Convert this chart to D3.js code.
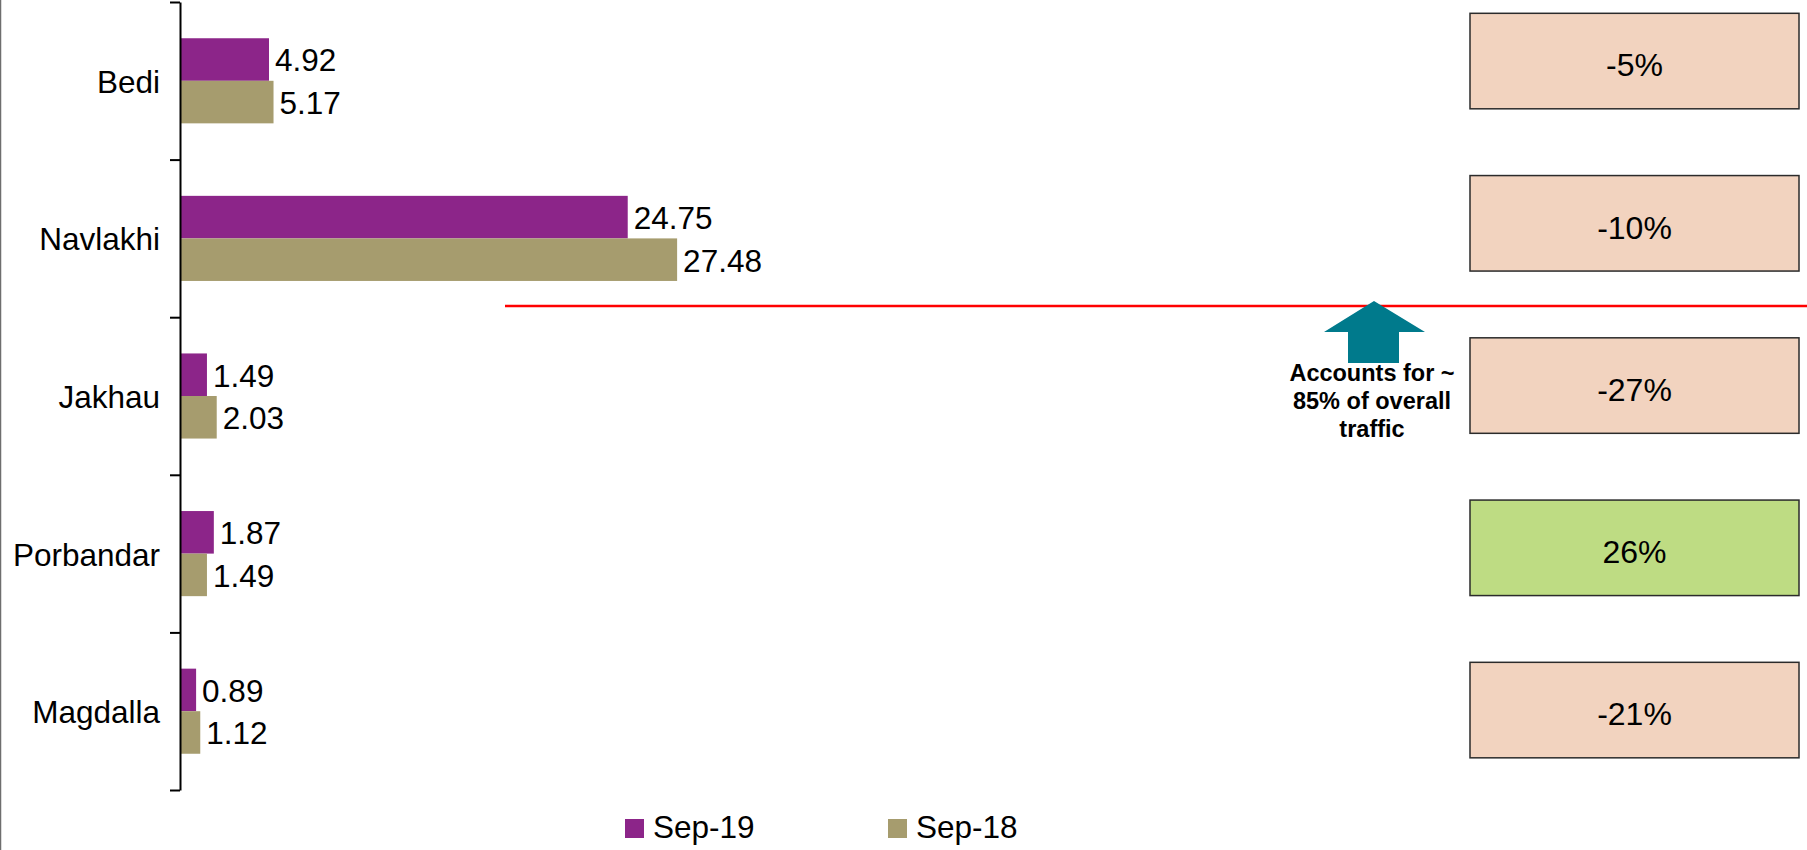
<!DOCTYPE html>
<html>
<head>
<meta charset="utf-8">
<script src="https://cdn.jsdelivr.net/npm/d3@7/dist/d3.min.js"></script>
<style>
  body { margin: 0; background: #fff; }
  svg { display: block; font-family: Arial, "Liberation Sans", sans-serif; }
</style>
</head>
<body>
<div id="chart"></div>
<script>
// data
var categories = ['Bedi', 'Navlakhi', 'Jakhau', 'Porbandar', 'Magdalla'];
var series = ['Sep-19', 'Sep-18'];
var sep19 = [4.92, 24.75, 1.49, 1.87, 0.89];
var sep18 = [5.17, 27.48, 2.03, 1.49, 1.12];
var growth = [-5, -10, -27, 26, -21];
var note = ['Accounts for ~', '85% of overall', 'traffic'];

var width = 1807, height = 850;
var colors = { 'Sep-19': '#8C2589', 'Sep-18': '#A69C6E' };

var svg = d3.select('#chart').append('svg')
    .attr('width', width).attr('height', height);

// scales
var x = d3.scaleLinear().domain([0, 30]).range([180, 180 + 30 * 18.09]);
var y0 = d3.scaleBand().domain(categories).range([2, 790])
    .paddingInner(0.46).paddingOuter(0.23);
var y1 = d3.scaleBand().domain(series).range([0, y0.bandwidth()]);
var yEdge = d3.scaleLinear().domain([0, categories.length]).range([2, 790]);
var yBox = d3.scaleBand().domain(categories).range([-20.07, 791.2])
    .paddingInner(0.4114).paddingOuter(0.2057);

// left border line
svg.append('line')
    .attr('x1', 0.5).attr('x2', 0.5).attr('y1', 0).attr('y2', height)
    .attr('stroke', '#6e6e6e').attr('stroke-width', 1.5);

// rows
var rows = categories.map(function(c, i) {
    return { cat: c, vals: [{ s: 'Sep-19', v: sep19[i] }, { s: 'Sep-18', v: sep18[i] }] };
});

var grp = svg.selectAll('g.row').data(rows).enter().append('g')
    .attr('class', 'row')
    .attr('transform', function(d) { return 'translate(0,' + y0(d.cat) + ')'; });

grp.selectAll('rect').data(function(d) { return d.vals; }).enter().append('rect')
    .attr('x', x(0)).attr('y', function(d) { return y1(d.s); })
    .attr('width', function(d) { return x(d.v) - x(0); })
    .attr('height', y1.bandwidth())
    .attr('fill', function(d) { return colors[d.s]; });

grp.selectAll('text.val').data(function(d) { return d.vals; }).enter().append('text')
    .attr('class', 'val')
    .attr('x', function(d) { return x(d.v) + 6; })
    .attr('y', function(d) { return y1(d.s) + y1.bandwidth() / 2; })
    .attr('dy', '0.38em')
    .attr('font-size', '31.5px').attr('fill', '#000')
    .text(function(d) { return d.v.toFixed(2); });

// category labels
svg.selectAll('text.cat').data(categories).enter().append('text')
    .attr('class', 'cat')
    .attr('x', 160).attr('y', function(d) { return y0(d) + y0.bandwidth() / 2; })
    .attr('dy', '0.38em').attr('text-anchor', 'end')
    .attr('font-size', '31.5px').attr('fill', '#000')
    .text(function(d) { return d; });

// axis line with ticks at category boundaries
var axis = d3.axisLeft(yEdge).tickValues(d3.range(categories.length + 1))
    .tickFormat('').tickSizeInner(10).tickSizeOuter(0);
var ax = svg.append('g').attr('transform', 'translate(180,0)').call(axis);
ax.selectAll('path, line').attr('stroke', '#000').attr('stroke-width', 2);

// growth boxes
var boxX = 1470, boxW = 329;
var boxes = svg.selectAll('g.box').data(categories).enter().append('g').attr('class', 'box');
boxes.append('rect')
    .attr('x', boxX).attr('y', function(d) { return yBox(d); })
    .attr('width', boxW).attr('height', yBox.bandwidth())
    .attr('fill', function(d, i) { return growth[i] >= 0 ? '#BEDC83' : '#F2D3BF'; })
    .attr('stroke', '#2b2b2b').attr('stroke-width', 1.5);
boxes.append('text')
    .attr('x', boxX + boxW / 2)
    .attr('y', function(d) { return yBox(d) + yBox.bandwidth() / 2; })
    .attr('dy', '0.48em').attr('text-anchor', 'middle')
    .attr('font-size', '32px').attr('fill', '#000')
    .text(function(d, i) { return growth[i] + '%'; });

// red divider between Navlakhi and Jakhau
var lineY = (yBox('Navlakhi') + yBox.bandwidth() + yBox('Jakhau')) / 2 + 1.5;
svg.append('line')
    .attr('x1', 505).attr('x2', width).attr('y1', lineY).attr('y2', lineY)
    .attr('stroke', '#FF0000').attr('stroke-width', 2.5);

// arrow
var ax0 = 1374, tip = lineY - 5;
var arrow = [[ax0, tip], [ax0 + 51, tip + 31], [ax0 + 25, tip + 31], [ax0 + 25, tip + 62],
    [ax0 - 26, tip + 62], [ax0 - 26, tip + 31], [ax0 - 50, tip + 31]];
svg.append('path')
    .attr('d', d3.line()(arrow) + 'Z')
    .attr('fill', '#007A8C');

svg.selectAll('text.note').data(note).enter().append('text')
    .attr('class', 'note')
    .attr('x', 1372).attr('y', function(d, i) { return 380.7 + i * 28.2; })
    .attr('text-anchor', 'middle').attr('font-weight', 'bold')
    .attr('font-size', '23.5px').attr('fill', '#000')
    .text(function(d) { return d; });

// legend
var legX = d3.scaleOrdinal().domain(series).range([625, 888]);
var leg = svg.selectAll('g.leg').data(series).enter().append('g').attr('class', 'leg');
leg.append('rect')
    .attr('x', function(d) { return legX(d); }).attr('y', 819)
    .attr('width', 19).attr('height', 19)
    .attr('fill', function(d) { return colors[d]; });
leg.append('text')
    .attr('x', function(d) { return legX(d) + 28; }).attr('y', 838)
    .attr('font-size', '31.5px').attr('fill', '#000')
    .text(function(d) { return d; });
</script>
</body>
</html>
